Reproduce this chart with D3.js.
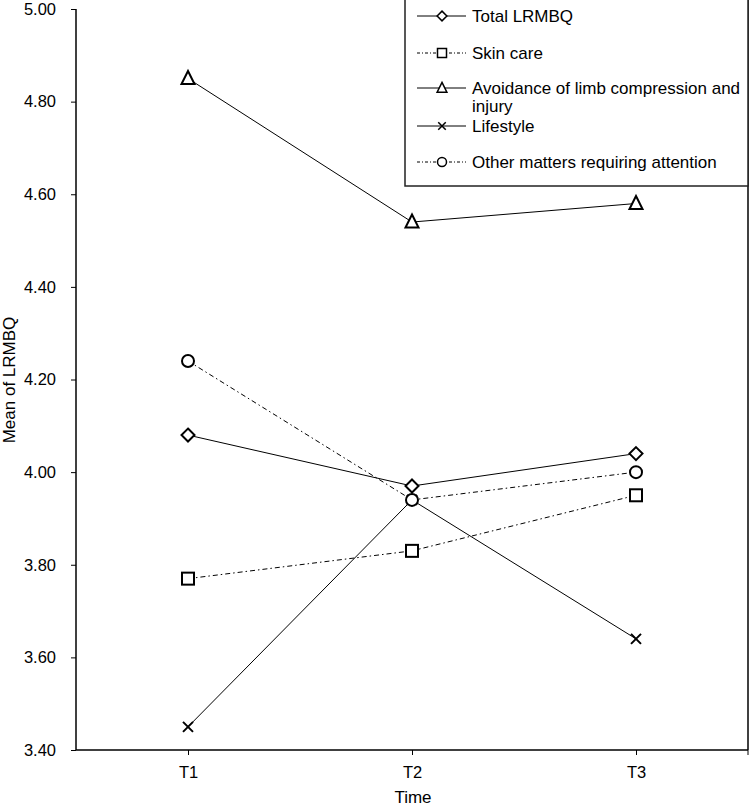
<!DOCTYPE html>
<html><head><meta charset="utf-8">
<script src="https://cdn.jsdelivr.net/npm/d3@7"></script>
<style>body{margin:0;background:#fff}svg{display:block}text{font-family:"Liberation Sans",Arial,sans-serif;fill:#000}</style>
</head><body>
<svg id="c" width="750" height="808"></svg>
<script>
const categories = ["T1","T2","T3"];
const seriesNames = ["Total LRMBQ","Skin care","Avoidance of limb compression and injury","Lifestyle","Other matters requiring attention"];
const totalLRMBQ = [4.08, 3.97, 4.04];
const skinCare = [3.77, 3.83, 3.95];
const avoidance = [4.85, 4.54, 4.58];
const lifestyle = [3.45, 3.94, 3.64];
const otherMatters = [4.24, 3.94, 4.00];
const yTicks = [3.40,3.60,3.80,4.00,4.20,4.40,4.60,4.80,5.00];
const markers = ["diamond","square","triangle","cross","circle"];
const dashed = [false,true,false,false,true];
const seriesValues = [totalLRMBQ, skinCare, avoidance, lifestyle, otherMatters];

const svg = d3.select("#c");
const L = 76, R = 748, T = 9, B = 750;
const x = d3.scalePoint().domain(categories).range([L, R]).padding(0.5);
const y = d3.scaleLinear().domain([3.4, 5.0]).range([B, T]);

// axes
const ya = svg.append("g").attr("transform",`translate(${L},0)`)
  .call(d3.axisLeft(y).tickValues(yTicks).tickFormat(d3.format(".2f")).tickSize(5).tickPadding(15));
ya.select(".domain").attr("stroke","#000").attr("stroke-width",1.5).attr("d",`M0,${T}V${B}`);
ya.selectAll(".tick line").attr("stroke","#000");
ya.selectAll(".tick text").attr("font-size",16.5).attr("font-family","Liberation Sans, Arial, sans-serif").attr("fill","#000");

const xa = svg.append("g").attr("transform",`translate(0,${B})`)
  .call(d3.axisBottom(x).tickSize(5).tickPadding(11));
xa.select(".domain").attr("stroke","#000").attr("stroke-width",1.5).attr("d",`M${L},0H${R}`);
xa.selectAll(".tick line").attr("stroke","#000");
xa.selectAll(".tick text").attr("font-size",16.5).attr("font-family","Liberation Sans, Arial, sans-serif").attr("fill","#000");
xa.append("line").attr("x1",R).attr("x2",R).attr("y1",0).attr("y2",5).attr("stroke","#000");

// right frame line
svg.append("line").attr("x1",R).attr("x2",R).attr("y1",0).attr("y2",B).attr("stroke","#000").attr("stroke-width",1.5);

svg.append("text").attr("x",413).attr("y",803).attr("text-anchor","middle").attr("font-size",17).text("Time");
svg.append("text").attr("transform","translate(15,380) rotate(-90)").attr("text-anchor","middle").attr("font-size",17).text("Mean of LRMBQ");

const dash = "5,3,1.5,3";
function drawMarker(g, type, cx, cy){
  const s = 6.5;
  if(type==="diamond") g.append("path").attr("d",`M${cx},${cy-s}L${cx+s},${cy}L${cx},${cy+s}L${cx-s},${cy}Z`);
  else if(type==="square") g.append("rect").attr("x",cx-s+0.5).attr("y",cy-s+0.5).attr("width",2*s-1).attr("height",2*s-1);
  else if(type==="triangle") g.append("path").attr("d",`M${cx},${cy-s-1}L${cx+s},${cy+s-1}L${cx-s},${cy+s-1}Z`);
  else if(type==="circle") g.append("circle").attr("cx",cx).attr("cy",cy).attr("r",s-0.5);
  else if(type==="cross") g.append("path").attr("d",`M${cx-5},${cy-5}L${cx+5},${cy+5}M${cx+5},${cy-5}L${cx-5},${cy+5}`);
}

const line = d3.line().x((d,i)=>x(categories[i])).y(d=>y(d));
seriesValues.forEach((vals,si)=>{
  svg.append("path").datum(vals).attr("d",line).attr("fill","none").attr("stroke","#000").attr("stroke-width",1)
    .attr("stroke-dasharray", dashed[si]?dash:null);
});
seriesValues.forEach((vals,si)=>{
  const g = svg.append("g").attr("fill",markers[si]==="cross"?"none":"#fff").attr("stroke","#000").attr("stroke-width",2);
  vals.forEach((v,i)=>drawMarker(g, markers[si], x(categories[i]), y(v)));
});

// legend
const lg = svg.append("g");
lg.append("rect").attr("x",405).attr("y",-2).attr("width",343).attr("height",188).attr("fill","#fff").attr("stroke","#222").attr("stroke-width",1.5);
const rowY = [16, 53, 88, 126, 162];
seriesNames.forEach((name,si)=>{
  const yy = rowY[si];
  lg.append("line").attr("x1",417).attr("x2",466).attr("y1",yy).attr("y2",yy).attr("stroke","#000").attr("stroke-width",1)
    .attr("stroke-dasharray", dashed[si]?"3,2,1,2":null);
  const g = lg.append("g").attr("fill",markers[si]==="cross"?"none":"#fff").attr("stroke","#000").attr("stroke-width",2);
  const sc = 0.75;
  const gg = g.append("g").attr("transform",`translate(442,${yy}) scale(${sc})`);
  drawMarker(gg, markers[si], 0, 0);
  if(si===2){
    const t = lg.append("text").attr("x",472).attr("y",yy).attr("dy","0.35em").attr("font-size",17);
    t.append("tspan").attr("x",472).text("Avoidance of limb compression and");
    t.append("tspan").attr("x",472).attr("dy",18).text("injury");
  } else {
    lg.append("text").attr("x",472).attr("y",yy).attr("dy","0.35em").attr("font-size",17).text(name);
  }
});
</script>
</body></html>
